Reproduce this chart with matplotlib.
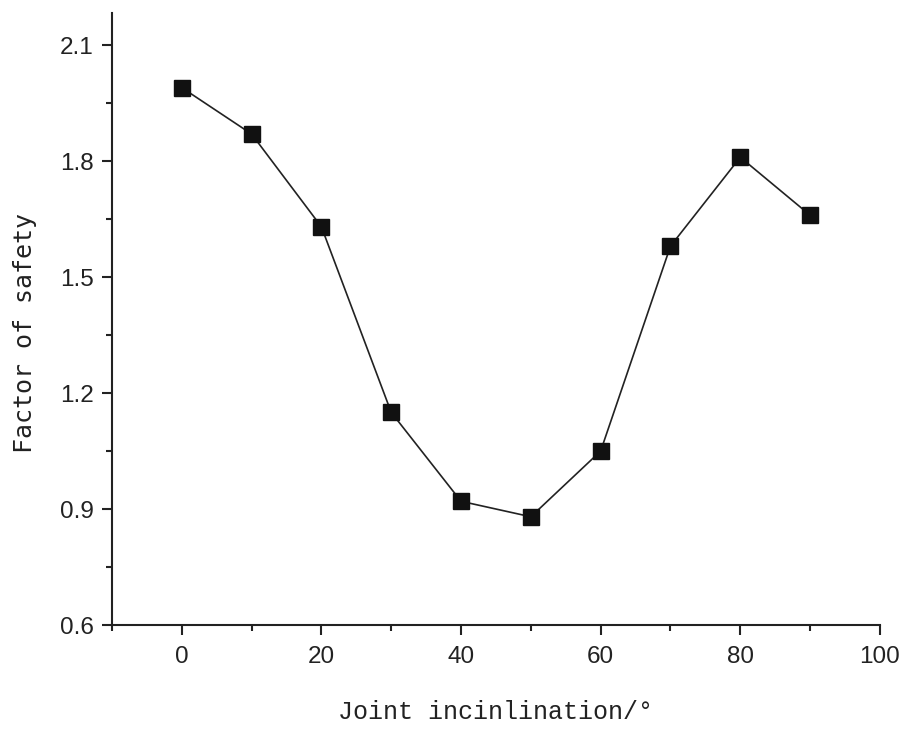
import matplotlib
matplotlib.use("Agg")
import matplotlib.pyplot as plt
from matplotlib.ticker import MultipleLocator, FormatStrFormatter

# ── Data ─────────────────────────────────────────────────────────────────────
inclination = [0, 10, 20, 30, 40, 50, 60, 70, 80, 90]
fos         = [1.99, 1.87, 1.63, 1.15, 0.92, 0.88, 1.05, 1.58, 1.81, 1.66]

# ── Plot ─────────────────────────────────────────────────────────────────────
fig = plt.figure(figsize=(9.09, 7.36), dpi=100)
ax = fig.add_axes([0.1232, 0.1508, 0.8448, 0.8315])

ax.plot(inclination, fos, color="#222222", linewidth=1.2,
        marker="s", markersize=12, markerfacecolor="#111111",
        markeredgecolor="#111111", zorder=3)

ax.set_xlim(-10, 100)
ax.set_ylim(0.6, 2.183)
ax.xaxis.set_major_locator(MultipleLocator(20))
ax.xaxis.set_minor_locator(MultipleLocator(10))
ax.yaxis.set_major_locator(MultipleLocator(0.3))
ax.yaxis.set_minor_locator(MultipleLocator(0.15))
ax.yaxis.set_major_formatter(FormatStrFormatter("%.1f"))

for s in ("top", "right"):
    ax.spines[s].set_visible(False)
for s in ("left", "bottom"):
    ax.spines[s].set_linewidth(1.5)
    ax.spines[s].set_color("#222222")

ax.tick_params(which="major", direction="out", length=7, width=1.5,
               color="#222222", labelsize=17.5, labelcolor="#222222", pad=6)
ax.tick_params(axis="x", which="major", pad=8)
ax.tick_params(which="minor", direction="out", length=4, width=1.5,
               color="#222222")
for lab in ax.get_xticklabels() + ax.get_yticklabels():
    lab.set_family("Liberation Sans")

ax.set_xlabel("Joint incinlination/°", family="Liberation Mono",
              fontsize=18, color="#222222")
ax.xaxis.set_label_coords(0.5, -0.122)
ax.set_ylabel("Factor of safety", family="DejaVu Sans Mono",
              fontsize=18, color="#222222")
ax.yaxis.set_label_coords(-0.098, 0.477)

fig.savefig("out.png", dpi=100)
